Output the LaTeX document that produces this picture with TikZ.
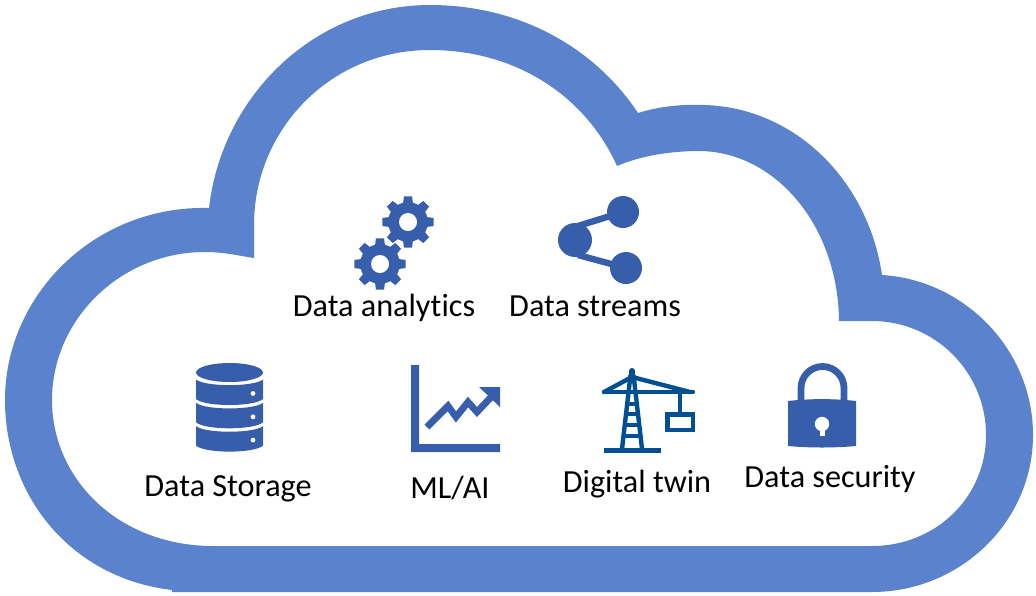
\documentclass[tikz,border=0pt]{standalone}
\usepackage{fontspec}
\setmainfont[Ligatures=CommonOff]{Carlito}
\definecolor{cloudblue}{HTML}{5B82CC}
\definecolor{iconblue}{HTML}{365EAA}
\definecolor{craneblue}{HTML}{004F92}
\tikzset{
  lbl/.style={font=\fontsize{16.1}{19}\selectfont,text=black,inner sep=0pt,anchor=base},
  icon/.style={fill=iconblue,draw=none},
  crane/.style={draw=craneblue,line width=2.2pt},
}
\newcommand{\gearicon}[2]{%
  \begin{scope}[shift={(#1,#2)}]
    \fill[iconblue]
      (-14:20) \foreach \a in {0,45,...,315}{
        -- ({\a-14}:20) -- ({\a-9}:26) -- ({\a+9}:26) -- ({\a+14}:20)
      } -- cycle;
    \fill[white] (0,0) circle[radius=9];
  \end{scope}}
\begin{document}
\begin{tikzpicture}[x=0.5pt,y=-0.5pt]
\useasboundingbox (0,0) rectangle (1036,595);
% cloud
\fill[cloudblue,even odd rule]
  (172,592) -- (172,590)
  .. controls (70,578) and (5,495) .. (5,400)
  .. controls (5,295) and (95,205) .. (209,208)
  .. controls (222,95) and (315,5) .. (430,5)
  .. controls (520,5) and (595,48) .. (638,113)
  .. controls (660,106) and (685,104) .. (705,105)
  .. controls (795,108) and (868,180) .. (882,275)
  .. controls (965,280) and (1033,350) .. (1033,435)
  .. controls (1033,522) and (960,592) .. (872,592)
  -- cycle
  (218,546)
  -- (872,546)
  .. controls (935,546) and (986,498) .. (986,435)
  .. controls (986,372) and (935,321) .. (872,321)
  -- (839,321)
  .. controls (838,225) and (775,152) .. (700,151)
  .. controls (670,151) and (640,156) .. (617,166)
  .. controls (585,95) and (515,50) .. (430,50)
  .. controls (330,50) and (254,130) .. (254,225)
  -- (254,258)
  .. controls (240,256) and (225,252) .. (205,252)
  .. controls (120,252) and (52,320) .. (52,400)
  .. controls (52,480) and (120,548) .. (218,546)
  -- cycle;
% gears
\gearicon{408}{222}
\gearicon{380}{264}
% share icon
\coordinate (hub) at (575,240);
\coordinate (up) at (623,212);
\coordinate (dn) at (626,268);
\coordinate (hubtop) at (578,226);
\coordinate (hubbot) at (578,255);
\draw[iconblue,line width=3.2pt] (hubtop) -- (up);
\draw[iconblue,line width=3.2pt] (hubbot) -- (dn);
\fill[iconblue] (hub) circle[radius=17];
\fill[iconblue] (up) circle[radius=16];
\fill[iconblue] (dn) circle[radius=16];
% database
\fill[icon] (229.5,372.5) ellipse[x radius=33.5,y radius=9.5];
\foreach \y in {0,23.3,46.6}{
  \fill[icon] (196,379.5+\y)
     .. controls (205,387+\y) and (254,387+\y) .. (263,379.5+\y)
     -- (263,399+\y)
     .. controls (254,407+\y) and (205,407+\y) .. (196,399+\y) -- cycle;
  \fill[white] (253,393.5+\y) circle[radius=2.4];
}
% chart
\fill[icon] (411,365) -- (419,365) -- (419,444) -- (500,444) -- (500,452) -- (411,452) -- cycle;
\draw[iconblue,line width=3.4pt,line join=miter] (427,427) -- (448,406) -- (456,417) -- (468,402) -- (477,412) -- (494,394);
\fill[icon] (479,387) -- (500,387) -- (500,407) -- cycle;
% crane
\draw[crane,line cap=round,line join=round] (604,392) -- (693,392);
\draw[crane,line cap=round,line join=round] (604,392) -- (632,377);
\draw[crane,line cap=round,line join=round] (632,377) -- (690,392);
\draw[crane,line width=3pt,line cap=round] (632,371) -- (632,380);
\draw[crane] (622,449) -- (630.5,375);
\draw[crane] (642,449) -- (633.5,375);
\foreach \y/\w in {404/4,414/5,425/6,436/7.5}{
  \draw[crane,line width=1.8pt] (632-\w,\y) -- (632+\w,\y);
}
\draw[crane,line width=2.6pt] (604,450.5) -- (661,450.5);
\draw[crane] (680,392) -- (680,414);
\draw[crane] (667.5,414.5) rectangle (693,430);
% lock
\draw[iconblue,line width=3.4pt] (801,402) -- (801,388) arc[start angle=180,end angle=360,radius=21.5] -- (844,402);
\fill[icon] (788,401) .. controls (810,398.5) and (834,398.5) .. (856,401)
   -- (856,446) .. controls (834,448) and (810,448) .. (788,446) -- cycle;
\fill[white] (822,424) circle[radius=7.2];
\fill[white] (819.5,426) rectangle (824.5,436);
% labels
\node[lbl] (analytics) at (384,316) {Data analytics};
\node[lbl] (streams) at (595,316) {Data streams};
\node[lbl] (storage) at (228,496) {Data Storage};
\node[lbl] (ml) at (450,498) {ML/AI};
\node[lbl] (twin) at (637,492) {Digital twin};
\node[lbl] (security) at (830,487) {Data security};
\end{tikzpicture}
\end{document}
